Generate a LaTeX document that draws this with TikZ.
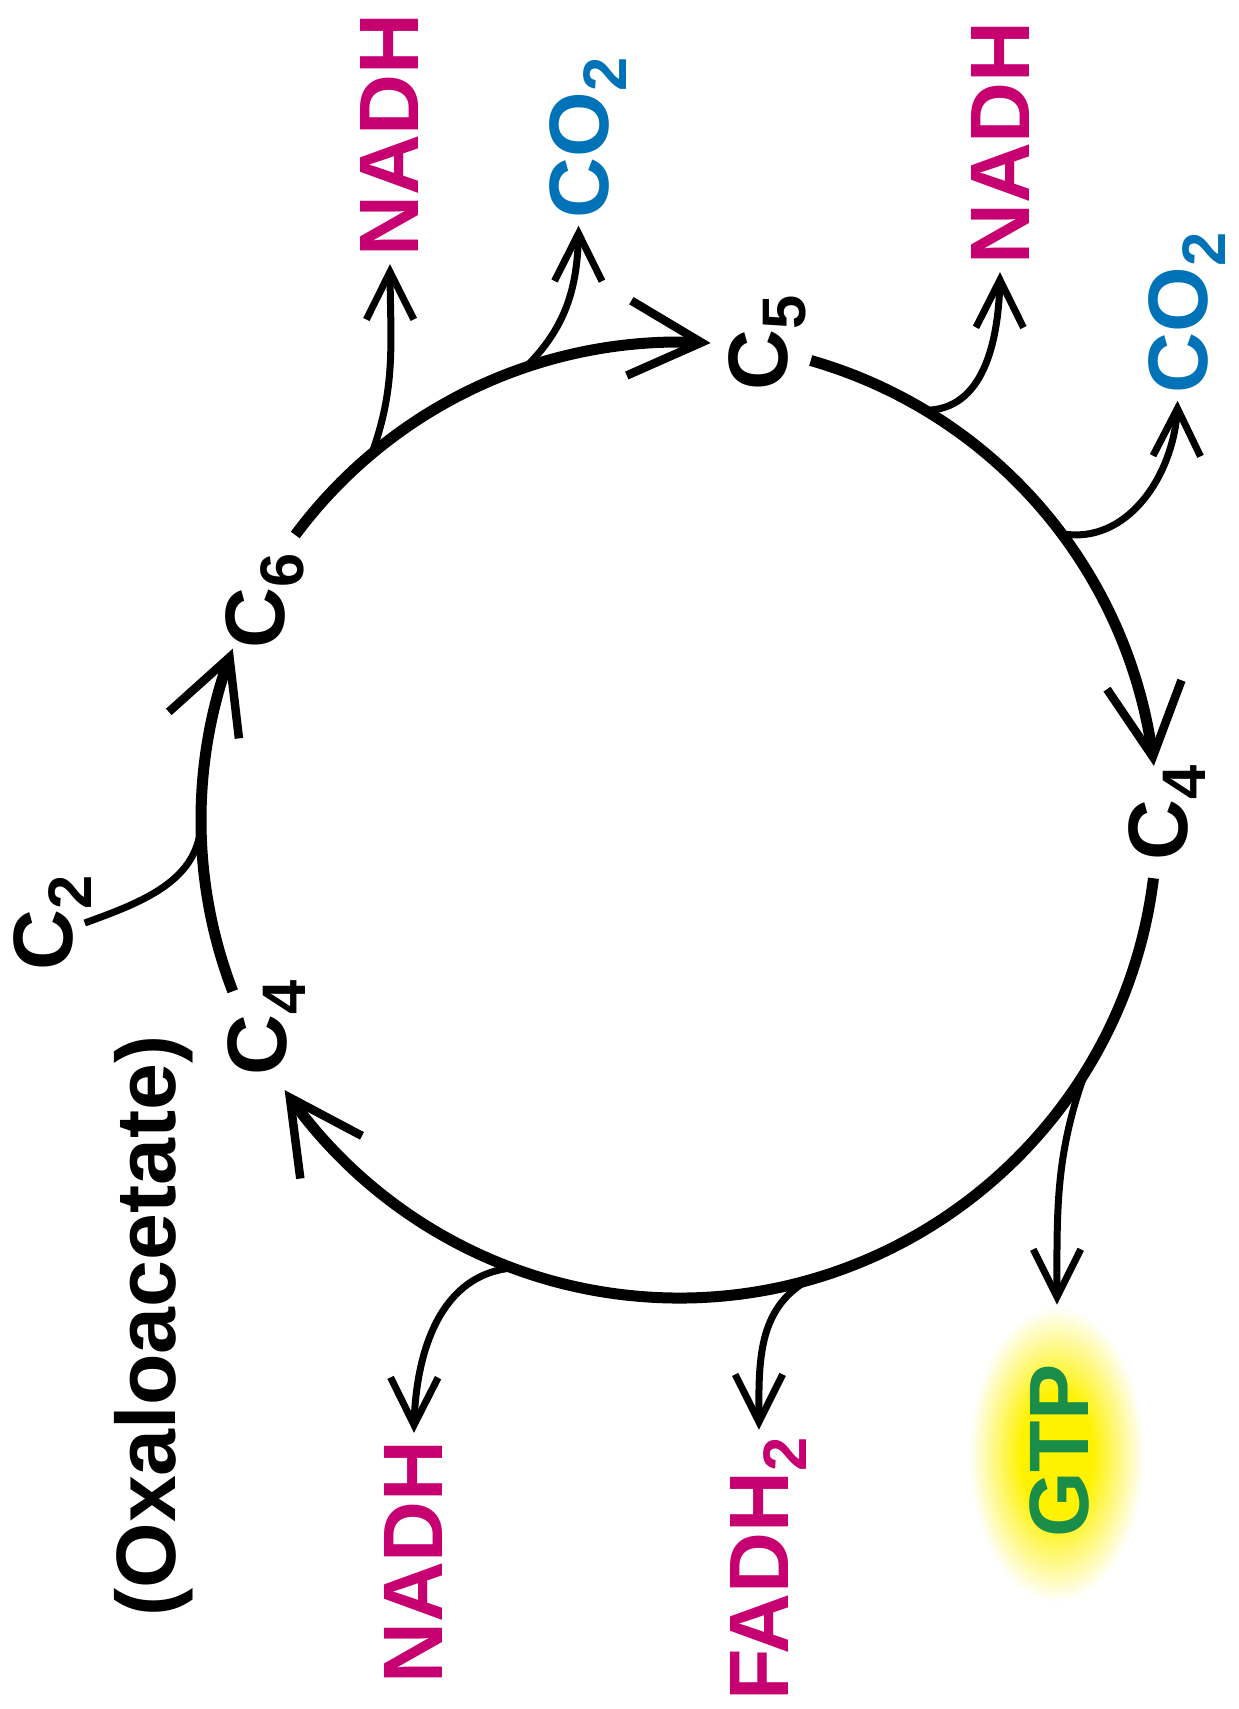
\documentclass[tikz,border=0pt]{standalone}
\usepackage{fontspec}
\setmainfont{Liberation Sans}
\usetikzlibrary{arrows.meta,bending,shapes.geometric}
\definecolor{nadhpink}{RGB}{198,0,112}
\definecolor{co2blue}{RGB}{0,114,184}
\definecolor{gtpgreen}{RGB}{26,142,72}
\newcommand{\lowsub}[1]{\raisebox{-0.22em}{\fontsize{35}{35}\selectfont #1}}
\begin{document}
\begin{tikzpicture}[x=0.02cm, y=0.02cm, font=\fontsize{48}{48}\selectfont\bfseries,
  ringarrow/.style={line width=0.22cm, -{Straight Barb[length=1.45cm, width=1.5cm, line width=0.17cm]}},
  sidearrow/.style={line width=0.14cm, -{Straight Barb[length=0.95cm, width=0.95cm]}},
  feedline/.style={line width=0.14cm},
  mol/.style={rotate=90, anchor=base, inner sep=4pt, text depth=0pt}]
  \useasboundingbox (-679,-889) rectangle (560,820);
  \node[ellipse, minimum width=3.56cm, minimum height=6cm, inner sep=0pt] (glow) at (378,-635) {};
  \foreach \k [evaluate=\k as \pct using int(5*\k)] in {0,...,20}
    \fill[yellow!\pct!white] (glow.center) ellipse [x radius={89-2.6*\k}, y radius={150-4.3*\k}];
  \node[mol] (c4a) at (-392,-208) {C\lowsub{4}};
  \node[mol] (c6) at (-394,219) {C\lowsub{6}};
  \node[mol] (c5) at (108,477) {C\lowsub{5}};
  \node[mol] (c4b) at (508,7) {C\lowsub{4}};
  \node[mol, text depth=0.25em] (c2) at (-606,-103) {C\lowsub{2}};
  \node[mol] (oxalo) at (-503,-506) {(Oxaloacetate)};
  \node[mol, text=nadhpink] (nadhA) at (-260,685) {NADH};
  \node[mol, text=co2blue] (co2A) at (-71,682) {CO\lowsub{2}};
  \node[mol, text=nadhpink] (nadhB) at (350,677) {NADH};
  \node[mol, text=co2blue] (co2B) at (528,507) {CO\lowsub{2}};
  \node[mol, text=gtpgreen] (gtp) at (409,-631) {GTP};
  \node[mol, text=nadhpink] (fadh) at (109,-749) {FADH\lowsub{2}};
  \node[mol, text=nadhpink] (nadhC) at (-236,-742) {NADH};
  \coordinate (r1) at (201:478);
  \coordinate (r2) at (143.4:478);
  \coordinate (r3) at (74:478);
  \coordinate (r4) at (-7:478);
  \coordinate (jin) at (180:478);
  \coordinate (jA) at (130:478);
  \coordinate (jB) at (108.7:478);
  \coordinate (jC) at (59:478);
  \coordinate (jD) at (36.8:478);
  \coordinate (jE) at (-31.7:478);
  \coordinate (jF) at (-74.4:478);
  \coordinate (jG) at (-110.4:478);
  \draw[ringarrow] (r1) arc[start angle=201, end angle=159, radius=478];
  \draw[ringarrow] (r2) arc[start angle=143.4, end angle=86.2, radius=478];
  \draw[ringarrow] (r3) arc[start angle=74, end angle=6.5, radius=478];
  \draw[ringarrow] (r4) arc[start angle=-7, end angle=-145.6, radius=478];
  \draw[feedline] (c2.south) to[out=20, in=-90] (jin);
  \draw[sidearrow] (jA) to[out=70, in=-90] (nadhA.west);
  \draw[sidearrow] (jB) to[out=45, in=-90] (co2A.west);
  \draw[sidearrow] (jC) to[out=0, in=-90] (nadhB.west);
  \draw[sidearrow] (jD) to[out=-10, in=-90] (co2B.west);
  \draw[sidearrow] (jE) to[out=-110, in=90] (glow.north);
  \draw[sidearrow] (jF) to[out=-150, in=90] (fadh.east);
  \draw[sidearrow] (jG) to[out=185, in=90] (nadhC.east);
\end{tikzpicture}
\end{document}
